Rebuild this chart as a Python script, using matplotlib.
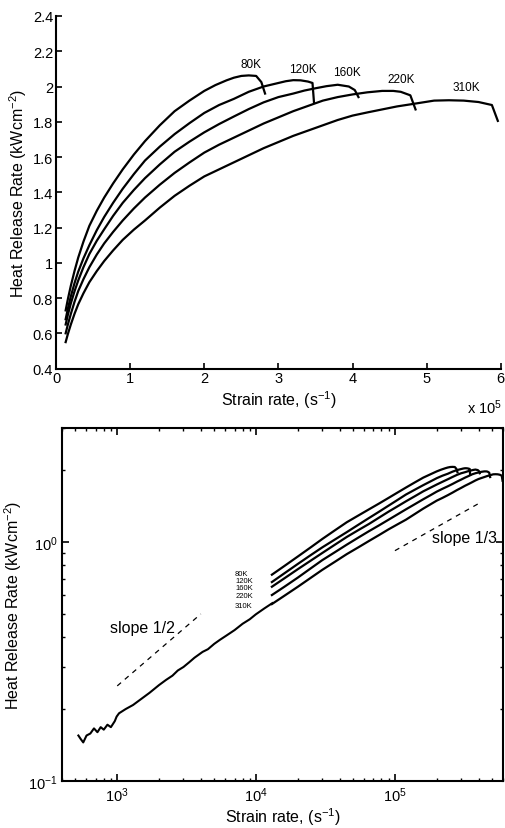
import matplotlib
matplotlib.use("Agg")
import matplotlib.pyplot as plt
import numpy as np
from matplotlib.ticker import FixedLocator, FormatStrFormatter, LogLocator, NullFormatter

plt.rcParams['font.family'] = ['Liberation Sans', 'DejaVu Sans']
plt.rcParams['mathtext.fontset'] = 'custom'
plt.rcParams['mathtext.rm'] = 'Liberation Sans'
plt.rcParams['mathtext.it'] = 'Liberation Sans:italic'
plt.rcParams['mathtext.default'] = 'regular'

# strain rate in units of 1e5 s^-1, heat release rate in kW/cm^2
temps = ['80K', '120K', '160K', '220K', '310K']

x_80 = [0.13, 0.16, 0.2, 0.25, 0.3, 0.37, 0.45, 0.55, 0.65, 0.77, 0.9, 1.05, 1.2, 1.4, 1.6, 1.8,
        2.0, 2.15, 2.3, 2.4, 2.5, 2.6, 2.7, 2.77, 2.82]
y_80 = [0.73, 0.794, 0.87, 0.954, 1.03, 1.12, 1.21, 1.295, 1.37, 1.45, 1.53, 1.614, 1.69, 1.78, 1.86, 1.92,
        1.975, 2.008, 2.035, 2.05, 2.06, 2.063, 2.06, 2.025, 1.96]

x_120 = [0.13, 0.16, 0.2, 0.25, 0.3, 0.37, 0.45, 0.55, 0.65, 0.77, 0.9, 1.05, 1.2, 1.4, 1.6, 1.8,
         2.0, 2.2, 2.4, 2.6, 2.8, 3.0, 3.1, 3.2, 3.3, 3.4, 3.46, 3.48]
y_120 = [0.68, 0.74, 0.81, 0.885, 0.95, 1.025, 1.10, 1.185, 1.26, 1.34, 1.42, 1.503, 1.58, 1.659, 1.73, 1.792,
         1.85, 1.895, 1.93, 1.97, 2.0, 2.02, 2.03, 2.036, 2.035, 2.028, 2.02, 1.91]

x_160 = [0.13, 0.16, 0.2, 0.25, 0.3, 0.37, 0.45, 0.55, 0.65, 0.77, 0.9, 1.05, 1.2, 1.4, 1.6, 1.8,
         2.0, 2.2, 2.4, 2.6, 2.8, 3.0, 3.2, 3.35, 3.5, 3.65, 3.8, 3.95, 4.03, 4.08]
y_160 = [0.65, 0.705, 0.77, 0.839, 0.90, 0.975, 1.05, 1.125, 1.19, 1.266, 1.34, 1.413, 1.48, 1.558, 1.63, 1.687,
         1.74, 1.787, 1.83, 1.872, 1.91, 1.94, 1.96, 1.977, 1.99, 2.002, 2.01, 2.0, 1.98, 1.94]

x_220 = [0.13, 0.16, 0.2, 0.25, 0.3, 0.37, 0.45, 0.55, 0.65, 0.77, 0.9, 1.05, 1.2, 1.4, 1.6, 1.8,
         2.0, 2.2, 2.4, 2.6, 2.8, 3.0, 3.2, 3.4, 3.6, 3.8, 4.0, 4.2, 4.4, 4.55, 4.65, 4.78, 4.85]
y_220 = [0.60, 0.65, 0.71, 0.779, 0.84, 0.907, 0.975, 1.047, 1.11, 1.175, 1.24, 1.308, 1.37, 1.443, 1.51, 1.569,
         1.625, 1.67, 1.71, 1.75, 1.79, 1.825, 1.86, 1.89, 1.92, 1.94, 1.955, 1.967, 1.975, 1.975, 1.97, 1.95, 1.87]

x_310 = [0.13, 0.16, 0.2, 0.25, 0.3, 0.37, 0.45, 0.55, 0.65, 0.77, 0.9, 1.05, 1.2, 1.4, 1.6, 1.8,
         2.0, 2.2, 2.4, 2.6, 2.8, 3.0, 3.2, 3.4, 3.6, 3.8, 4.0, 4.2, 4.4, 4.6, 4.8, 5.1, 5.3, 5.5, 5.7, 5.88, 5.96]
y_310 = [0.55, 0.596, 0.65, 0.711, 0.765, 0.827, 0.89, 0.953, 1.01, 1.07, 1.13, 1.188, 1.24, 1.313, 1.38, 1.437,
         1.49, 1.53, 1.57, 1.61, 1.65, 1.685, 1.72, 1.75, 1.78, 1.81, 1.835, 1.853, 1.87, 1.887, 1.90, 1.92, 1.922,
         1.92, 1.912, 1.895, 1.805]

# low strain part (common to all temperatures), s^-1
low_x = [525, 545, 569, 601, 640, 680, 720, 760, 800, 850, 900, 960, 990, 1030, 1150, 1300, 1450,
         1710, 2000, 2250, 2500, 2730, 3000, 3300, 3600, 4120, 4500, 5000, 5500, 6070, 7000, 8000,
         9000, 9950, 11500, 13100]
low_y = [0.155, 0.150, 0.145, 0.155, 0.158, 0.166, 0.160, 0.168, 0.164, 0.172, 0.168, 0.178, 0.186,
         0.192, 0.200, 0.208, 0.218, 0.234, 0.252, 0.265, 0.276, 0.290, 0.300, 0.314, 0.328, 0.347,
         0.356, 0.375, 0.390, 0.405, 0.428, 0.455, 0.475, 0.498, 0.528, 0.555]

curves_x = [x_80, x_120, x_160, x_220, x_310]
curves_y = [y_80, y_120, y_160, y_220, y_310]

# label positions, top panel
lab_x = [2.63, 3.33, 3.93, 4.65, 5.54]
lab_y = [2.127, 2.098, 2.083, 2.04, 2.0]
# label positions, bottom panel
loglab_y = [0.738, 0.687, 0.644, 0.597, 0.544]

# reference slopes
s12_x = [1000, 4000]
s12_y = [0.25, 0.5]
s13_x = [1.0e5, 4.1e5]
s13_y = [0.92, 1.46]

fig = plt.figure(figsize=(5.06, 8.29), dpi=100)

# ---- top: linear axes
ax1 = fig.add_axes([0.1107, 0.5542, 0.879, 0.4253])
for xs, ys in zip(curves_x, curves_y):
    ax1.plot(xs, ys, color='black', lw=1.6)
for t, lx, ly in zip(temps, lab_x, lab_y):
    ax1.text(lx, ly, t, fontsize=8.5, ha='center', va='center')
ax1.set_xlim(0, 6)
ax1.set_ylim(0.4, 2.4)
ax1.set_xticks(range(0, 7))
ax1.set_yticks(np.arange(0.4, 2.41, 0.2))
ax1.yaxis.set_major_formatter(FormatStrFormatter('%g'))
ax1.spines['top'].set_visible(False)
ax1.spines['right'].set_visible(False)
for s in ['left', 'bottom']:
    ax1.spines[s].set_linewidth(1.5)
ax1.tick_params(direction='in', length=4, width=1.2, labelsize=10.5, pad=2)
ax1.set_xlabel('Strain rate, (s$^{-1}$)', fontsize=11.5, labelpad=2)
ax1.set_ylabel('Heat Release Rate (kWcm$^{-2}$)', fontsize=11.5, labelpad=3)
fig.text(0.992, 0.508, 'x 10$^5$', fontsize=10.5, ha='right', va='center')

# ---- bottom: log-log axes
ax2 = fig.add_axes([0.1225, 0.0567, 0.8715, 0.4258])
ax2.plot(low_x, low_y, color='black', lw=1.5)
for xs, ys in zip(curves_x, curves_y):
    ax2.plot(np.array(xs) * 1e5, ys, color='black', lw=1.6)
ax2.plot(s12_x, s12_y, color='black', lw=0.9, linestyle=(0, (4, 4)))
ax2.plot(s13_x, s13_y, color='black', lw=0.9, linestyle=(0, (4, 4)))
ax2.text(880, 0.44, 'slope 1/2', fontsize=11.5, ha='left', va='center')
ax2.text(1.85e5, 1.04, 'slope 1/3', fontsize=11.5, ha='left', va='center')
for t, ly in zip(temps, loglab_y):
    ax2.text(7060, ly, t, fontsize=5.5, ha='left', va='center')
ax2.set_xscale('log')
ax2.set_yscale('log')
ax2.set_xlim(400, 6e5)
ax2.set_ylim(0.1, 3.0)
ax2.xaxis.set_major_locator(FixedLocator([1e3, 1e4, 1e5]))
ax2.yaxis.set_major_locator(FixedLocator([0.1, 1.0]))
ax2.xaxis.set_minor_locator(LogLocator(base=10, subs=np.arange(2, 10)))
ax2.yaxis.set_minor_locator(LogLocator(base=10, subs=np.arange(2, 10)))
ax2.xaxis.set_minor_formatter(NullFormatter())
ax2.yaxis.set_minor_formatter(NullFormatter())
for s in ax2.spines.values():
    s.set_linewidth(1.5)
ax2.tick_params(which='both', direction='in', top=True, right=True, labelsize=10.5, pad=3)
ax2.tick_params(which='major', length=5, width=1.2)
ax2.tick_params(which='minor', length=2.5, width=1.0)
ax2.set_xlabel('Strain rate, (s$^{-1}$)', fontsize=11.5, labelpad=1)
ax2.set_ylabel('Heat Release Rate (kWcm$^{-2}$)', fontsize=11.5, labelpad=3)

fig.savefig('out.png', dpi=100)
